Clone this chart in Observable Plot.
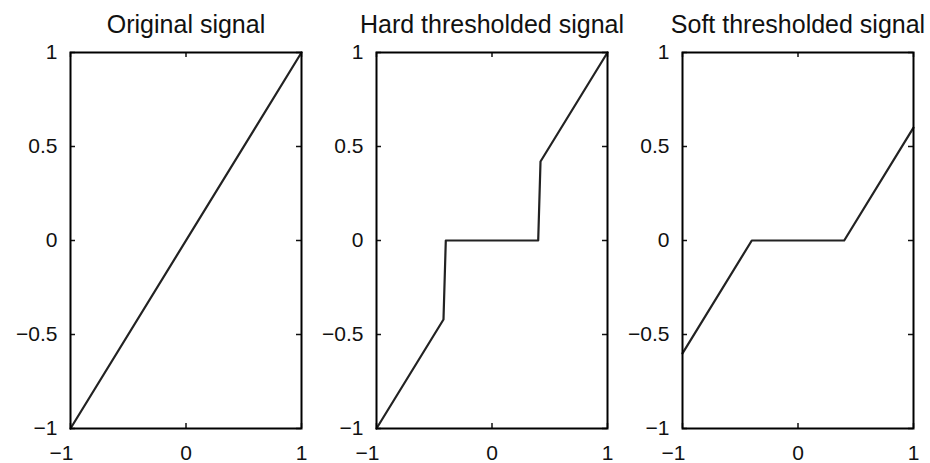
<!DOCTYPE html>
<html>
<head>
<meta charset="utf-8">
<script src="https://cdn.jsdelivr.net/npm/d3@7"></script>
<script src="https://cdn.jsdelivr.net/npm/@observablehq/plot@0.6"></script>
<style>
  html, body { margin: 0; padding: 0; background: #fff; }
  #row { display: flex; flex-direction: row; width: 930px; height: 463px; }
  #row svg { display: block; overflow: visible; }
</style>
</head>
<body>
<div id="row"></div>
<script>
// Titles
const titles = ["Original signal", "Hard thresholded signal", "Soft thresholded signal"];

// Original signal
const origX = [-1, 1];
const origY = [-1, 1];

// Hard thresholded signal (threshold ≈ 0.4)
const hardX = [-1, -0.42, -0.40, 0.40, 0.42, 1];
const hardY = [-1, -0.42, 0, 0, 0.42, 1];

// Soft thresholded signal
const softX = [-1, -0.4, 0.4, 1];
const softY = [-0.6, 0, 0, 0.6];

// Ticks
const xTicksNeg = [-1];
const xTicksPos = [0, 1];
const xTicks = [-1, 0, 1];
const xTickLabels = ["\u22121", "0", "1"];
const yTicks = [-1, -0.5, 0, 0.5, 1];
const yTickLabels = ["\u22121", "\u22120.5", "0", "0.5", "1"];

const seriesX = [origX, hardX, softX];
const seriesY = [origY, hardY, softY];

const W = 306, H = 463, ML = 70, MR = 5, MT = 52, MB = 35;
const innerW = W - ML - MR;
const innerH = H - MT - MB;
const tickLen = 5;
const fmtX = d => xTickLabels[xTicks.indexOf(d)];
const fmtY = d => yTickLabels[yTicks.indexOf(d)];

const row = document.getElementById("row");
for (let i = 0; i < 3; i++) {
  const data = seriesX[i].map((x, j) => ({x, y: seriesY[i][j]}));
  const plot = Plot.plot({
    width: W,
    height: H,
    marginLeft: ML,
    marginRight: MR,
    marginTop: MT,
    marginBottom: MB,
    style: {fontFamily: "'Liberation Sans', Arial, Helvetica, sans-serif", fontSize: "21px", color: "#111", background: "transparent", overflow: "visible"},
    x: {domain: [-1, 1], label: null},
    y: {domain: [-1, 1], label: null},
    marks: [
      Plot.axisX({ticks: xTicksNeg, tickSize: 0, tickPadding: 17, tickFormat: fmtX, fontSize: 21, dx: -9, label: null}),
      Plot.axisX({ticks: xTicksPos, tickSize: 0, tickPadding: 17, tickFormat: fmtX, fontSize: 21, label: null}),
      Plot.axisY({ticks: yTicks, tickSize: 0, tickPadding: 13, tickFormat: fmtY, fontSize: 21, label: null}),
      // inward ticks on all four sides
      Plot.tickY(yTicks, {y: d => d, insetRight: innerW - tickLen, stroke: "#111", strokeWidth: 1.5}),
      Plot.tickY(yTicks, {y: d => d, insetLeft: innerW - tickLen, stroke: "#111", strokeWidth: 1.5}),
      Plot.tickX(xTicks, {x: d => d, insetTop: innerH - tickLen, stroke: "#111", strokeWidth: 1.5}),
      Plot.tickX(xTicks, {x: d => d, insetBottom: innerH - tickLen, stroke: "#111", strokeWidth: 1.5}),
      Plot.line(data, {x: "x", y: "y", stroke: "#222", strokeWidth: 2.2}),
      Plot.frame({stroke: "#000", strokeWidth: 2}),
      Plot.text([titles[i]], {text: d => d, frameAnchor: "top", dy: -20, lineAnchor: "bottom", fontSize: 25, fill: "#111"})
    ]
  });
  row.appendChild(plot);
}
</script>
</body>
</html>
